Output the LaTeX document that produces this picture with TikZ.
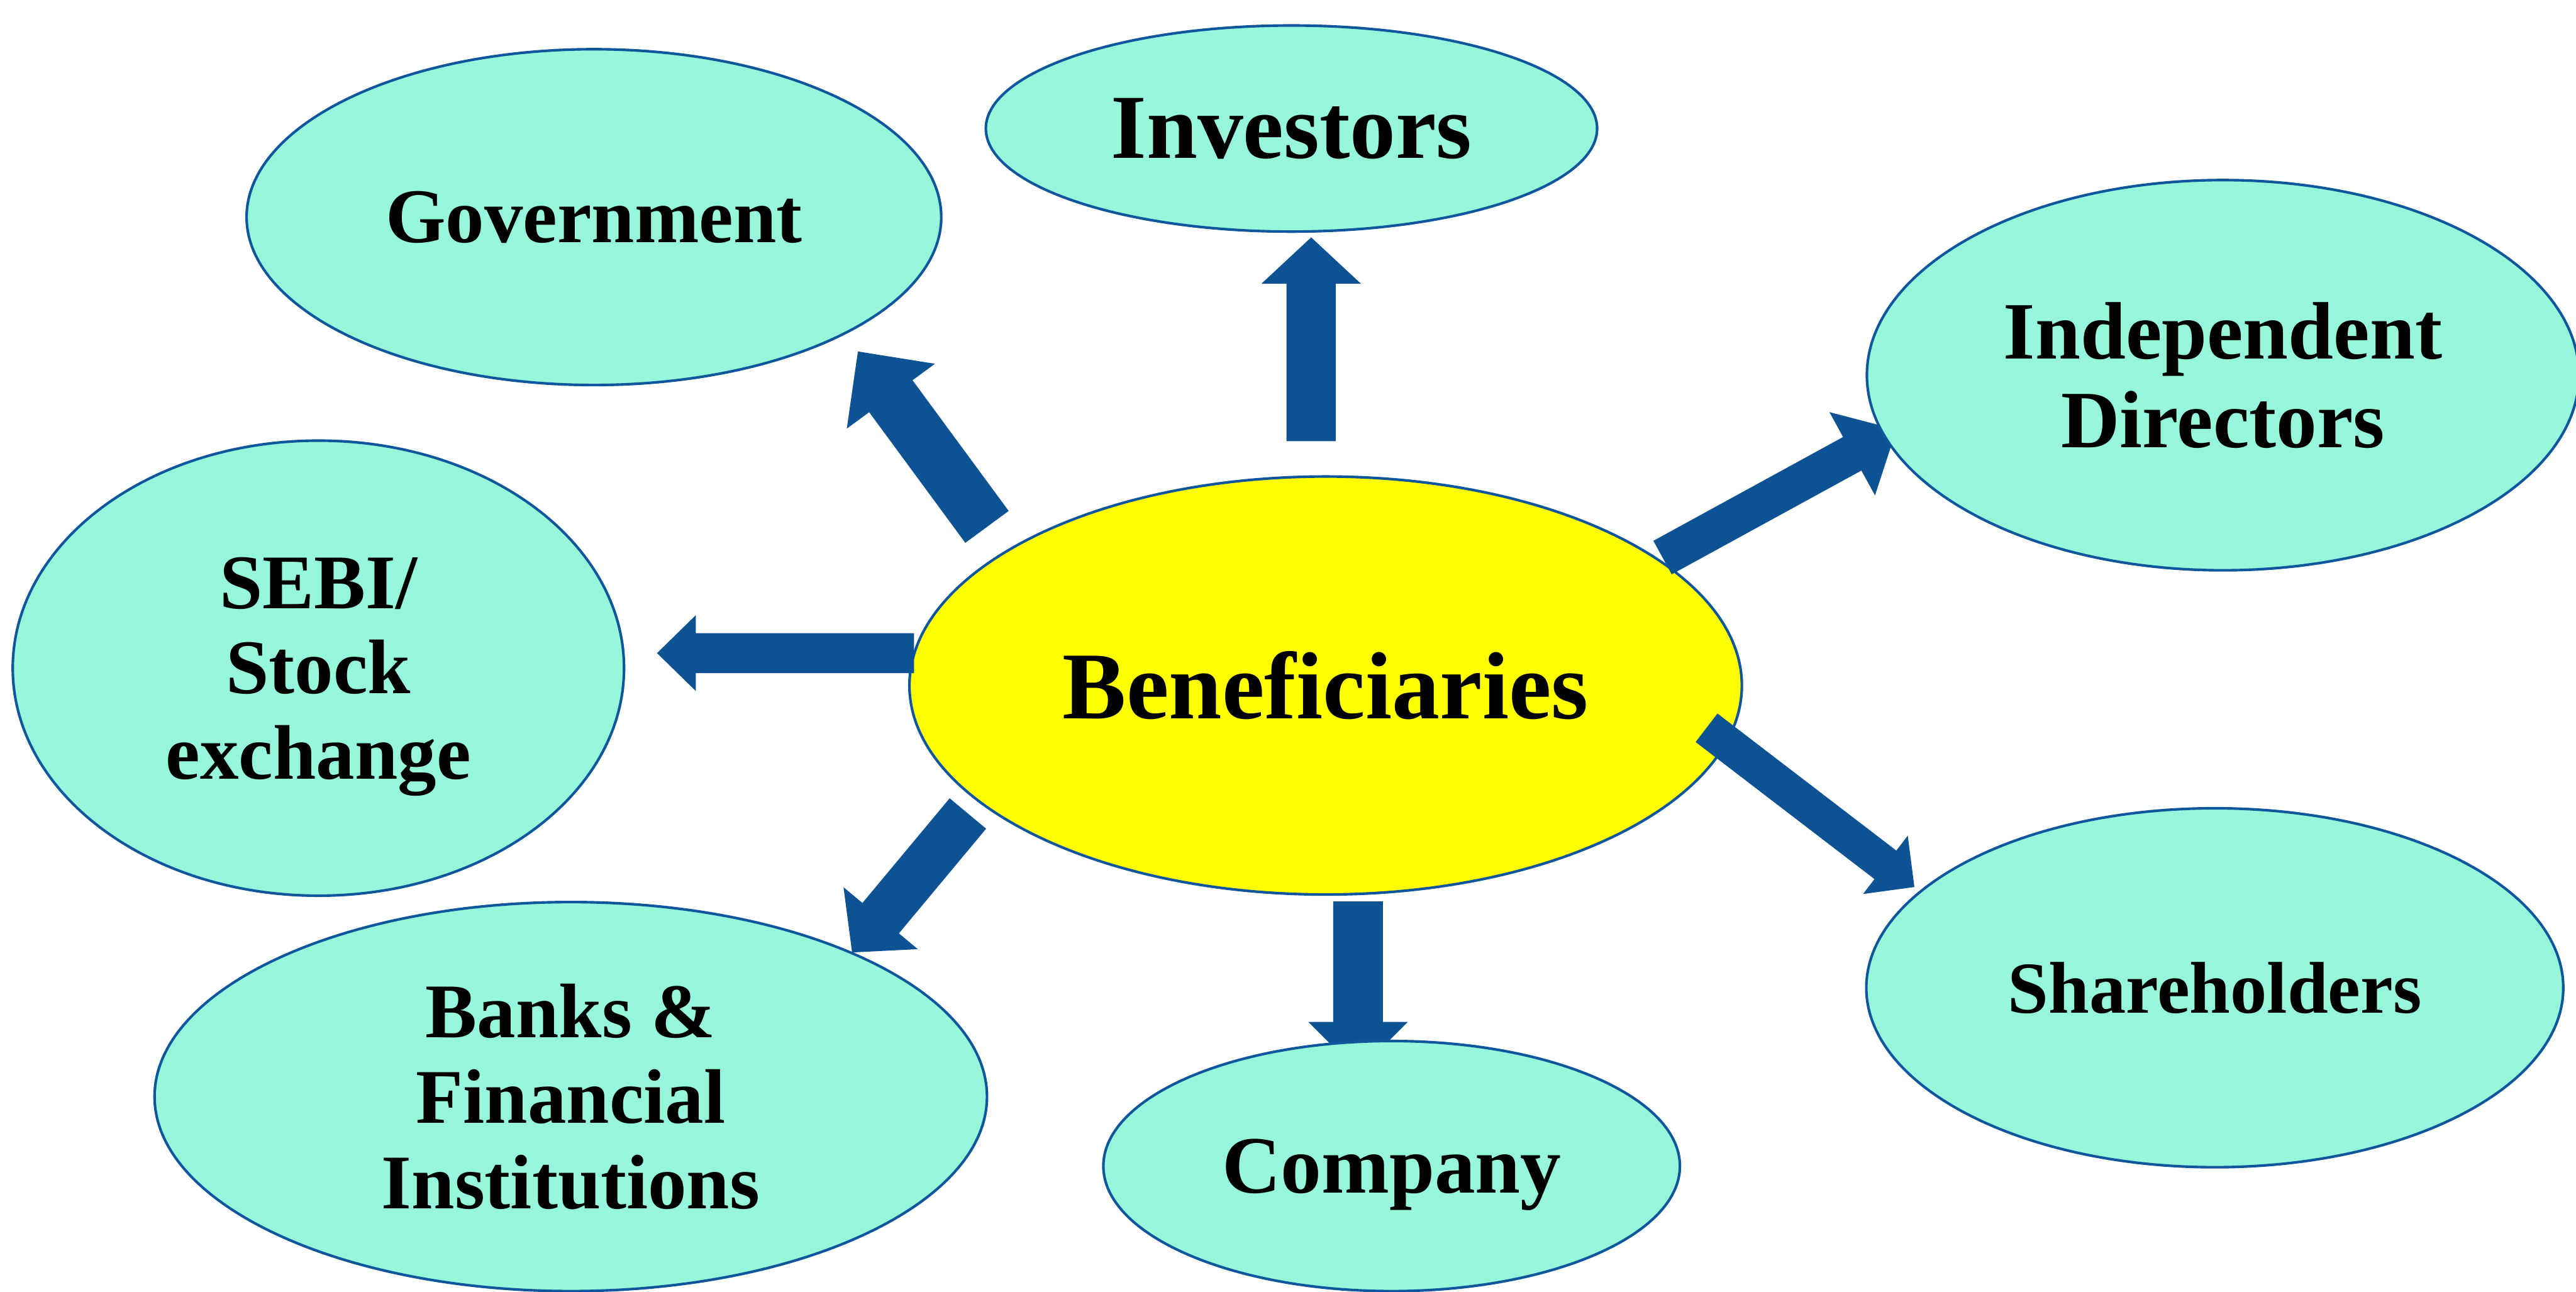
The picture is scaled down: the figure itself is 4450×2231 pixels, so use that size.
\documentclass[tikz,border=0pt]{standalone}
\usepackage{fontspec}
\setmainfont{Liberation Serif}
\usetikzlibrary{calc,shapes.geometric}

\definecolor{mint}{RGB}{150,247,218}
\definecolor{sun}{RGB}{255,255,0}
\definecolor{arrowblue}{RGB}{13,82,147}
\definecolor{rimblue}{RGB}{16,86,156}

\newcommand{\pt}[2]{\bfseries\fontsize{#1}{#2}\selectfont}

\begin{document}
\begin{tikzpicture}[x=0.1mm, y=-0.1mm]
	\tikzstyle{every node}=[ellipse, draw=rimblue, line width=.45mm, inner sep=0pt, align=center]
	\tikzstyle{party}=[fill=mint]
	% block arrow: half shaft, half head, head length
	\tikzset{blockarrow/.style n args={3}{fill=arrowblue, draw=none, to path={
		($(\tikztostart)!#1!90:(\tikztotarget)$)
		-- ($(\tikztotarget)!#3!(\tikztostart)!#1!90:(\tikztotarget)$)
		-- ($(\tikztotarget)!#3!(\tikztostart)!#2!90:(\tikztotarget)$)
		-- (\tikztotarget)
		-- ($(\tikztotarget)!#3!(\tikztostart)!#2!-90:(\tikztotarget)$)
		-- ($(\tikztotarget)!#3!(\tikztostart)!#1!-90:(\tikztotarget)$)
		-- ($(\tikztostart)!#1!-90:(\tikztotarget)$) -- cycle}}}
	\useasboundingbox[fill=white] (0,0) rectangle (4450,2231);

	% centre
	\path (2290,1184) node[fill=sun, minimum width=143.8mm, minimum height=72.2mm, font=\pt{47}{50}] (ben) {Beneficiaries};

	% arrow ends
	\coordinate (invfrom) at (2265,762);  \coordinate (invto) at (2265,410);
	\coordinate (govfrom) at (1705,910);  \coordinate (govto) at (1482,607);
	\coordinate (indfrom) at (2872,963);  \coordinate (indto) at (3276,742);
	\coordinate (sebifrom) at (1579,1128); \coordinate (sebito) at (1135,1128);
	\coordinate (bankfrom) at (1672,1405); \coordinate (bankto) at (1472,1645);
	\coordinate (comfrom) at (2346,1557); \coordinate (comto) at (2346,1851);
	\coordinate (shrfrom) at (2948,1257); \coordinate (shrto) at (3307,1532);

	\draw[blockarrow={4.25mm}{8.6mm}{8mm}] (invfrom) to (invto);
	\draw[blockarrow={4.65mm}{9.45mm}{9.6mm}] (govfrom) to (govto);
	\draw[blockarrow={3.3mm}{8.2mm}{8.7mm}] (indfrom) to (indto);
	\draw[blockarrow={3.45mm}{6.55mm}{6.7mm}] (sebifrom) to (sebito);
	\draw[blockarrow={4.1mm}{8.35mm}{7.7mm}] (bankfrom) to (bankto);
	\draw[blockarrow={4.3mm}{8.6mm}{8.6mm}] (comfrom) to (comto);
	\draw[blockarrow={3.1mm}{6.35mm}{6.3mm}] (shrfrom) to (shrto);

	% the seven parties
	\path (2231,222) node[party, minimum width=105.6mm, minimum height=35.6mm, font=\pt{45}{48}] (inv) {Investors};
	\path (1026,375) node[party, minimum width=120mm, minimum height=58mm, font=\pt{38}{42}] (gov) {Government};
	\path (3840,648) node[party, minimum width=123mm, minimum height=67.4mm, font=\pt{40}{43.5}] (ind) {Independent\\Directors};
	\path (550,1154) node[party, minimum width=105.6mm, minimum height=78.6mm, font=\pt{38}{42}, text depth=0pt] (sebi) {SEBI/\\Stock\\exchange};
	\path (3826,1706) node[party, minimum width=120.4mm, minimum height=62mm, font=\pt{36}{40}] (shr) {Shareholders};
	\path (986,1894) node[party, minimum width=143.8mm, minimum height=67.2mm, font=\pt{38}{42}] (bank) {Banks \&\\Financial\\Institutions};
	\path (2404,2014) node[party, minimum width=99.6mm, minimum height=43.2mm, font=\pt{40}{43}, text depth=0pt] (com) {Company};
\end{tikzpicture}
\end{document}
